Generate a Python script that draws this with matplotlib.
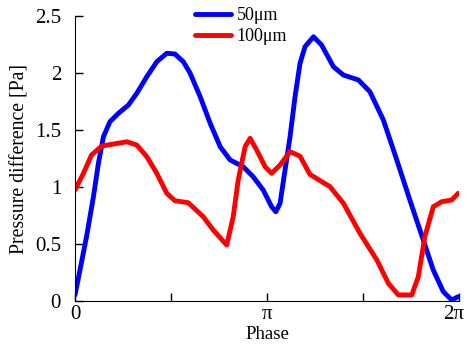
import numpy as np
import matplotlib
matplotlib.use("Agg")
import matplotlib.pyplot as plt
import matplotlib.transforms as mtransforms

# phase given as fraction of a full cycle (0..1 -> 0..2pi), pressure in Pa
t_50 = [0.000, 0.013, 0.030, 0.048, 0.061, 0.074, 0.091, 0.113, 0.139, 0.161,
        0.187, 0.213, 0.239, 0.260, 0.282, 0.299, 0.326, 0.352, 0.378, 0.404,
        0.438, 0.464, 0.490, 0.512, 0.523, 0.534, 0.547, 0.560, 0.573, 0.586,
        0.599, 0.621, 0.642, 0.673, 0.699, 0.738, 0.768, 0.803, 0.838, 0.872,
        0.907, 0.933, 0.959, 0.981, 0.998]
p_50 = [0.053, 0.272, 0.564, 0.915, 1.208, 1.441, 1.573, 1.646, 1.719, 1.822,
        1.968, 2.099, 2.173, 2.167, 2.099, 2.004, 1.792, 1.559, 1.354, 1.237,
        1.178, 1.090, 0.974, 0.827, 0.783, 0.857, 1.149, 1.441, 1.792, 2.085,
        2.231, 2.318, 2.246, 2.055, 1.982, 1.939, 1.836, 1.588, 1.237, 0.886,
        0.535, 0.272, 0.082, 0.009, 0.038]

t_100 = [0.000, 0.022, 0.043, 0.070, 0.100, 0.135, 0.161, 0.187, 0.213, 0.239,
         0.260, 0.295, 0.334, 0.360, 0.395, 0.412, 0.425, 0.443, 0.456, 0.473,
         0.495, 0.512, 0.534, 0.560, 0.586, 0.612, 0.664, 0.699, 0.742, 0.786,
         0.816, 0.842, 0.877, 0.894, 0.911, 0.933, 0.955, 0.981, 0.998]
p_100 = [0.974, 1.120, 1.281, 1.360, 1.377, 1.397, 1.368, 1.266, 1.120, 0.945,
         0.880, 0.862, 0.739, 0.623, 0.491, 0.739, 1.061, 1.354, 1.427, 1.325,
         1.178, 1.120, 1.193, 1.310, 1.270, 1.110, 1.003, 0.857, 0.594, 0.360,
         0.155, 0.053, 0.053, 0.213, 0.564, 0.827, 0.871, 0.886, 0.945]

x_ticks = [0, 0.5, 1, 1.5, 2]
x_tick_labels = ["0", "", "π", "", "2π"]
y_ticks = [0, 0.5, 1, 1.5, 2, 2.5]
y_tick_labels = ["0", "0.5", "1", "1.5", "2", "2.5"]

plt.rcParams["font.family"] = ["Liberation Serif", "DejaVu Serif"]
plt.rcParams["font.size"] = 13

fig = plt.figure(figsize=(4.67, 3.47), dpi=100)
ax = fig.add_axes([75 / 467, 1 - 301 / 347, 384 / 467, 285 / 347])

style = dict(lw=3.5, solid_joinstyle="round", solid_capstyle="round")
ax.plot(np.array(t_50) * 2 * np.pi, p_50, color="#0000ff", label="50μm", **style)
ax.plot(np.array(t_100) * 2 * np.pi, p_100, color="#ff0000", label="100μm", **style)

ax.set_xlim(0, 2 * np.pi)
ax.set_ylim(0, 2.5)
ax.set_xticks(np.array(x_ticks) * np.pi)
ax.set_xticklabels(x_tick_labels)
ax.set_yticks(y_ticks)
ax.set_yticklabels(y_tick_labels)
ax.tick_params(direction="in", length=6, width=1, labelsize=15)
ax.tick_params(axis="y", pad=10)
ax.tick_params(axis="x", pad=3)
ax.spines["top"].set_visible(False)
ax.spines["right"].set_visible(False)

# nudge the 2pi label a little left so it stays inside the figure
last = ax.get_xticklabels()[-1]
last.set_transform(last.get_transform()
                   + mtransforms.ScaledTranslation(-4 / 72, 0, fig.dpi_scale_trans))

ax.set_xlabel("Phase", fontsize=13.5, labelpad=1)
ax.set_ylabel("Pressure difference [Pa]", fontsize=14.2, labelpad=4)

ax.legend(loc="upper left", bbox_to_anchor=(0.3125, 1.03), frameon=False,
          borderpad=0, borderaxespad=0, handlelength=2.0, handletextpad=0.3,
          labelspacing=0.2)

fig.savefig("out.png", dpi=100)
